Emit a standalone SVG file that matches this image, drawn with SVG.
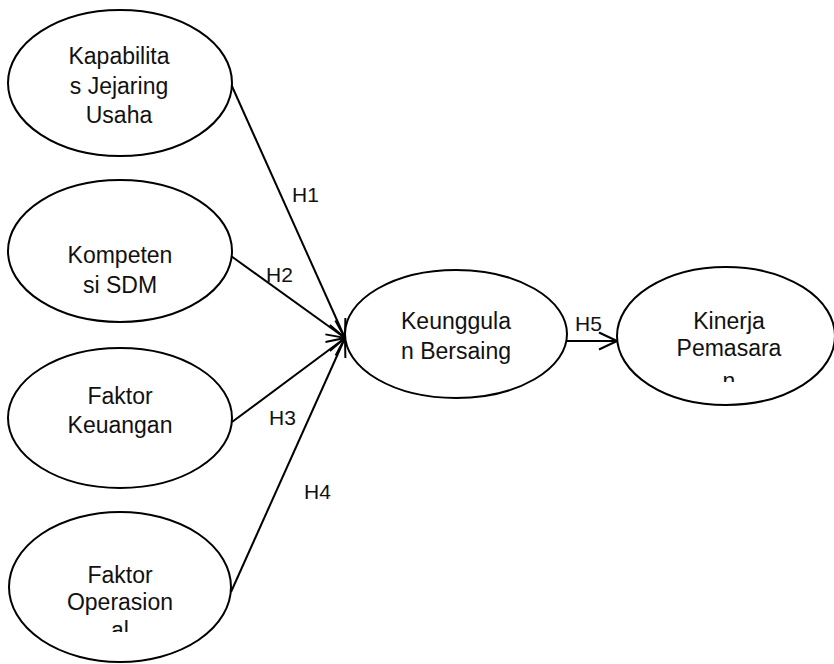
<svg xmlns="http://www.w3.org/2000/svg" width="834" height="664" viewBox="0 0 834 664">
  <style>
    .node ellipse { fill: #ffffff; stroke: #000000; stroke-width: 2; }
    .node text, .label { font-family: "Liberation Sans", Arial, sans-serif; fill: #111111; text-anchor: middle; }
    .node text { font-size: 23px; }
    .label { font-size: 21px; text-anchor: start; }
    .edge { stroke: #000000; stroke-width: 2; fill: none; marker-end: url(#open); }
  </style>
  <defs>
    <marker id="open" viewBox="0 0 20 20" refX="19" refY="10" markerWidth="20" markerHeight="20" markerUnits="userSpaceOnUse" orient="auto">
      <path d="M1,1.5 L19,10 L1,18.5" fill="none" stroke="#000000" stroke-width="2"/>
    </marker>
    <clipPath id="clipKinerja"><rect x="617" y="267" width="217" height="115"/></clipPath>
    <clipPath id="clipOperasional"><rect x="9" y="512" width="222" height="120"/></clipPath>
  </defs>
  <rect width="834" height="664" fill="#ffffff"/>

  <g id="connectors">
    <line class="edge" x1="231" y1="84" x2="345" y2="338"/>
    <line class="edge" x1="231" y1="256" x2="345" y2="338"/>
    <line class="edge" x1="232" y1="422" x2="345" y2="338"/>
    <line class="edge" x1="231" y1="592" x2="345" y2="338"/>
    <line class="edge" x1="566" y1="341" x2="617" y2="341"/>
    <text class="label" x="292" y="202">H1</text>
    <text class="label" x="266" y="282">H2</text>
    <text class="label" x="269" y="425">H3</text>
    <text class="label" x="304" y="499">H4</text>
    <text class="label" x="575" y="331">H5</text>
  </g>

  <g id="kapabilitas" class="node">
    <ellipse cx="120" cy="83" rx="112" ry="73"/>
    <text x="119" y="64">Kapabilita</text>
    <text x="119" y="94">s Jejaring</text>
    <text x="119" y="123">Usaha</text>
  </g>

  <g id="kompetensi" class="node">
    <ellipse cx="120" cy="251" rx="112" ry="71"/>
    <text x="120" y="263">Kompeten</text>
    <text x="120" y="293">si SDM</text>
  </g>

  <g id="keuangan" class="node">
    <ellipse cx="120" cy="418" rx="112" ry="70"/>
    <text x="120" y="404">Faktor</text>
    <text x="120" y="433">Keuangan</text>
  </g>

  <g id="operasional" class="node">
    <ellipse cx="120" cy="587" rx="111" ry="75"/>
    <g clip-path="url(#clipOperasional)">
      <text x="120" y="583">Faktor</text>
      <text x="120" y="610">Operasion</text>
      <text x="120" y="638">al</text>
    </g>
  </g>

  <g id="keunggulan" class="node">
    <ellipse cx="456" cy="334" rx="111" ry="64"/>
    <text x="456" y="329">Keunggula</text>
    <text x="456" y="359">n Bersaing</text>
  </g>

  <g id="kinerja" class="node">
    <ellipse cx="726" cy="336" rx="109" ry="69"/>
    <g clip-path="url(#clipKinerja)">
      <text x="729" y="329">Kinerja</text>
      <text x="729" y="356">Pemasara</text>
      <text x="729" y="389">n</text>
    </g>
  </g>
</svg>
